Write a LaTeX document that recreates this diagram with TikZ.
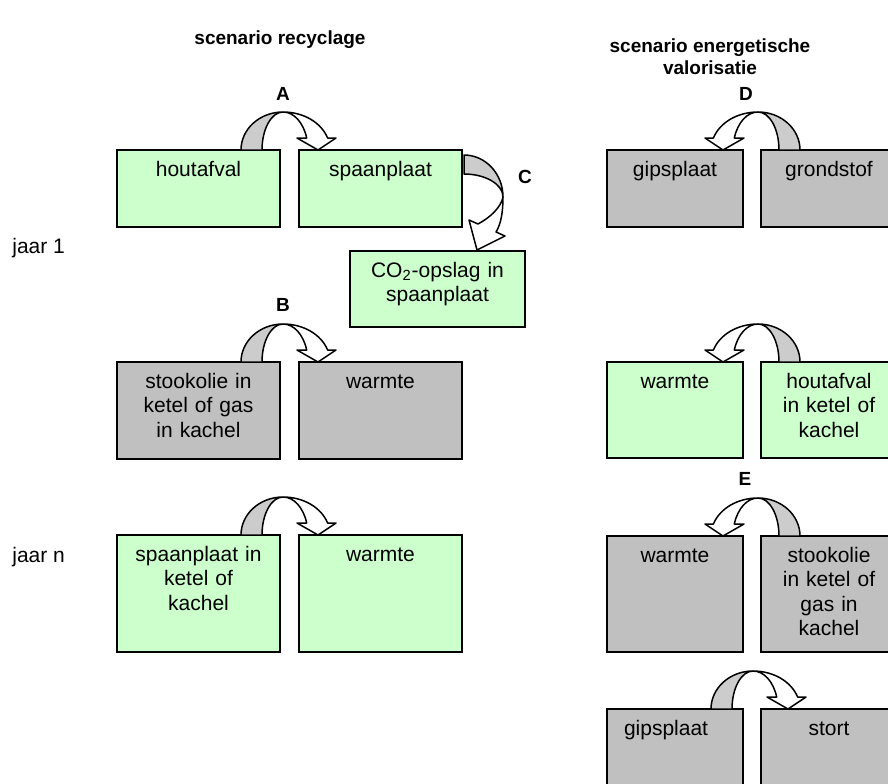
\documentclass[tikz,border=0pt]{standalone}
\usepackage{fontspec}
\setmainfont{Liberation Sans}
\usetikzlibrary{calc}

\definecolor{boxgreen}{HTML}{CCFFCC}
\definecolor{boxgray}{HTML}{C0C0C0}
\definecolor{backgray}{HTML}{CCCCCC}

\begin{document}
\begin{tikzpicture}[x=0.5pt, y=-0.5pt]
% -------------------------------------------------
\tikzset{
  base/.style={draw, line width=1pt, anchor=north west, inner xsep=0pt, inner ysep=0pt, outer sep=0pt,
               align=center, text height=13pt, font=\fontsize{10.5}{12.25}\selectfont},
  boxl/.style={base, text width=81.5pt},
  boxr/.style={base, text width=68pt},
  recy/.style={fill=boxgreen},
  fossil/.style={fill=boxgray},
  lbl/.style={font=\bfseries\fontsize{9.5}{11}\selectfont, inner sep=0pt},
  txt/.style={font=\fontsize{10.5}{12.25}\selectfont, anchor=west, inner sep=0pt},
  arrowline/.style={line width=0.75pt, line join=round},
  pics/bendarrow/.style={code={
    \draw[arrowline, fill=backgray] (-42,38) .. controls (-42,17) and (-23.2,0) .. (0,0)
      .. controls (-11.6,0) and (-21,17) .. (-21,38) -- cycle;
    \draw[arrowline, fill=white] (0,0) .. controls (20.3,0) and (38.2,10.4) .. (44.6,26)
      -- (53,26) -- (35,38) -- (14,26) -- (23.7,26)
      .. controls (20.3,10.4) and (10.8,0) .. (0,0) -- cycle;
  }}
}

\path[use as bounding box] (0,0) rectangle (888,783);
\clip (0,0) rectangle (888,783);

% headings and years
\node[lbl] (hrec) at (280,40) {scenario recyclage};
\node[lbl, align=center] (hval) at (710,57) {scenario energetische\\valorisatie};
\node[txt] (j1) at (12,248) {jaar 1};
\node[txt] (jn) at (12,557) {jaar n};

% scenario recyclage
\node[boxl, recy, text depth=25.5pt] (hout) at (117,150) {houtafval};
\node[boxl, recy, text depth=25.5pt] (spaan) at (299,150) {spaanplaat};
\node[base, recy, text width=87.5pt, text depth=25pt] (co2) at (350,251) {CO\textsubscript{2}-opslag in\\spaanplaat};
\node[boxl, fossil, text depth=35.5pt] (stook) at (117,362) {stookolie in\\ketel of gas\\in kachel};
\node[boxl, fossil, text depth=35.5pt] (warmB) at (299,362) {warmte};
\node[boxl, recy, text depth=45.5pt] (spaanK) at (117,535) {spaanplaat in\\ketel of\\kachel};
\node[boxl, recy, text depth=45.5pt] (warmN) at (299,535) {warmte};

% scenario energetische valorisatie
\node[boxr, fossil, text depth=25.5pt] (gipsD) at (607,150) {gipsplaat};
\node[boxr, fossil, text depth=25.5pt] (grond) at (761,150) {grondstof};
\node[boxr, recy, text depth=35pt] (warmE1) at (607,362) {warmte};
\node[boxr, recy, text depth=35pt] (houtK) at (761,362) {houtafval\\in ketel of\\kachel};
\node[boxr, fossil, text depth=45pt] (warmE2) at (607,536) {warmte};
\node[boxr, fossil, text depth=45pt] (stookE) at (761,536) {stookolie\\in ketel of\\gas in\\kachel};
\node[base, fossil, inner xsep=8.5pt, text width=51pt, align=left, text depth=47pt] (gipsS) at (607,709) {gipsplaat};
\node[boxr, fossil, text depth=47pt] (stort) at (761,709) {stort};

% bent arrows
\coordinate (apA) at ($(hout.north east)+(3,-38)$);
\coordinate (apB) at ($(stook.north east)+(3,-38)$);
\coordinate (apN) at ($(spaanK.north east)+(3,-38)$);
\coordinate (apD) at ($(gipsD.north east)+(15,-38)$);
\coordinate (apW) at ($(warmE1.north east)+(15,-38)$);
\coordinate (apE) at ($(warmE2.north east)+(15,-38)$);
\coordinate (apS) at ($(gipsS.north east)+(10,-38)$);
\coordinate (apC) at ($(spaan.north east)+(41,47)$);

\pic at (apA) {bendarrow};
\pic at (apB) {bendarrow};
\pic at (apN) {bendarrow};
\pic[xscale=-1] at (apD) {bendarrow};
\pic[xscale=-1] at (apW) {bendarrow};
\pic[xscale=-1] at (apE) {bendarrow};
\pic at (apS) {bendarrow};

\begin{scope}[shift={(apC)}]
  \draw[arrowline, fill=backgray] (-39,-42) .. controls (-17.5,-42) and (0,-23.2) .. (0,0)
    .. controls (0,-12.7) and (-17.5,-23) .. (-39,-23) -- cycle;
  \draw[arrowline, fill=white] (0,0) .. controls (0,15) and (-2,27) .. (-7,35)
    -- (2,39) -- (-26,53) -- (-34,23) -- (-25,27)
    .. controls (-12,20) and (-2,10) .. (0,0) -- cycle;
\end{scope}

\node[lbl] (labA) at ($(apA)+(0,-18)$) {A};
\node[lbl] (labB) at ($(apB)+(0,-19)$) {B};
\node[lbl] (labC) at ($(apC)+(22,-20)$) {C};
\node[lbl] (labD) at ($(apD)+(-12,-18)$) {D};
\node[lbl] (labE) at ($(apE)+(-13,-19)$) {E};

\end{tikzpicture}
\end{document}
